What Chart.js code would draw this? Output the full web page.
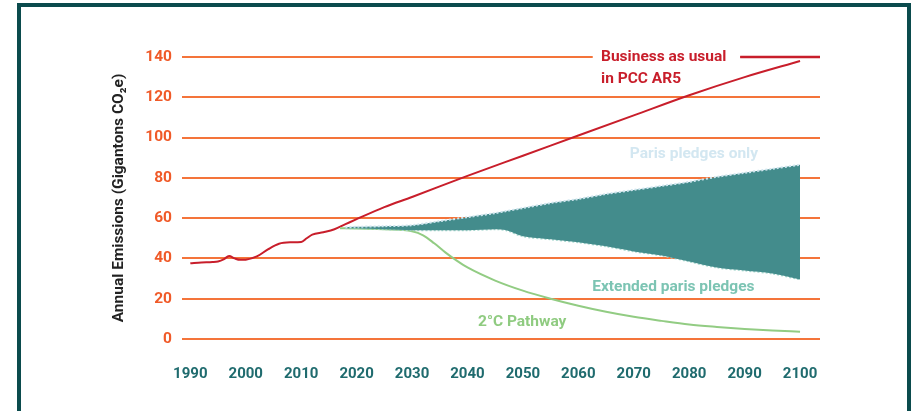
<!DOCTYPE html>
<html>
<head>
<meta charset="utf-8">
<script src="https://cdn.jsdelivr.net/npm/chart.js@4"></script>
<style>
  html, body { margin: 0; padding: 0; background: #fff; }
  #wrap { position: relative; width: 920px; height: 411px; overflow: hidden; }
  #frame { position: absolute; left: 17px; top: 3px; width: 886px; height: 420px;
           border: 4px solid #0b4b4d; border-bottom: none; }
  #chart { position: absolute; left: 0; top: 0; }
</style>
</head>
<body>
<div id="wrap">
  <div id="frame"></div>
  <canvas id="chart" width="920" height="411"></canvas>
</div>
<script>
// =======================
// Data
// =======================
const xTicks = [1990, 2000, 2010, 2020, 2030, 2040, 2050, 2060, 2070, 2080, 2090, 2100];

const bauYears  = [1990, 1992, 1994, 1995, 1996, 1997, 1998, 1999, 2000, 2002, 2004, 2006, 2008, 2010, 2011, 2012, 2014, 2016, 2018, 2020, 2025, 2030, 2040, 2050, 2060, 2070, 2080, 2090, 2100];
const bauValues = [37.6, 38, 38.2, 38.5, 39.5, 41.2, 40, 39.3, 39.4, 41, 44.5, 47.3, 48, 48.2, 50, 51.8, 53, 54.5, 57, 59.5, 65.5, 70.5, 81, 91, 101, 111, 121, 130, 138];

const bandYears   = [2018, 2020, 2025, 2030, 2035, 2040, 2045, 2047, 2050, 2055, 2060, 2065, 2070, 2075, 2080, 2085, 2090, 2095, 2100];
const parisOnly   = [55.5, 55.7, 56, 56.5, 58.5, 60.5, 62.5, 63.5, 65, 67.5, 69.5, 72, 74, 76, 78, 80.5, 82.5, 84.5, 86.5];
const parisExtend = [55, 55, 54.5, 54, 54, 54, 54.5, 54, 51, 49.5, 48, 46, 43.5, 41.5, 38.5, 35.5, 34, 32.5, 29.6];

const twoDegYears  = [2017, 2020, 2025, 2030, 2032, 2034, 2036, 2038, 2040, 2045, 2050, 2055, 2060, 2065, 2070, 2075, 2080, 2085, 2090, 2095, 2100];
const twoDegValues = [55, 54.8, 54.5, 53.5, 51.5, 47.5, 43, 39, 35.5, 29, 24, 20, 16.5, 13.5, 11, 9, 7.2, 6, 5, 4.2, 3.6];

function toPoints(xs, ys) {
  return xs.map((x, i) => ({ x: x, y: ys[i] }));
}

// =======================
// Labels plugin
// =======================
const labelsPlugin = {
  id: 'labels',
  afterDatasetsDraw(chart) {
    const ctx = chart.ctx;
    const xs = chart.scales.x, ys = chart.scales.y;
    const px = v => xs.getPixelForValue(v);
    const py = v => ys.getPixelForValue(v);

    ctx.save();
    // gap in the top grid line behind the label, then the red key line
    ctx.fillStyle = '#fff';
    ctx.fillRect(px(2062.6), py(140) - 3, px(2089.2) - px(2062.6), 6);
    ctx.strokeStyle = '#c81e2b';
    ctx.lineWidth = 2.5;
    ctx.beginPath();
    ctx.moveTo(px(2089.2), py(140));
    ctx.lineTo(px(2103.6), py(140));
    ctx.stroke();

    ctx.font = 'bold 15.5px Roboto';
    ctx.textAlign = 'left';
    ctx.textBaseline = 'middle';
    ctx.fillStyle = '#c81e2b';
    ctx.fillText('Business as usual', px(2064.1), py(140));
    ctx.fillText('in PCC AR5', px(2064.1), py(129.1));

    ctx.fillStyle = '#d3e7f1';
    ctx.fillText('Paris pledges only', px(2069.3), py(91.9));

    ctx.fillStyle = '#7cc4b3';
    ctx.fillText('Extended paris pledges', px(2062.5), py(25.8));

    ctx.fillStyle = '#8fcb80';
    ctx.fillText('2°C Pathway', px(2041.9), py(8.4));
    ctx.restore();
  }
};

// =======================
// Chart
// =======================
const ctx = document.getElementById('chart').getContext('2d');
new Chart(ctx, {
  type: 'line',
  data: {
    datasets: [
      { label: 'Paris pledges only', data: toPoints(bandYears, parisOnly), borderColor: '#cfe5ef', borderWidth: 2, borderDash: [2, 2],
        backgroundColor: '#438c8c', fill: '+1', pointRadius: 0, tension: 0.3 },
      { label: 'Extended paris pledges', data: toPoints(bandYears, parisExtend), borderColor: '#a8d8cf', borderWidth: 2, borderDash: [2, 2],
        fill: false, pointRadius: 0, tension: 0.3 },
      { label: '2°C Pathway', data: toPoints(twoDegYears, twoDegValues), borderColor: '#92cc83', borderWidth: 2,
        fill: false, pointRadius: 0, cubicInterpolationMode: 'monotone' },
      { label: 'Business as usual', data: toPoints(bauYears, bauValues), borderColor: '#c81e2b', borderWidth: 2,
        fill: false, pointRadius: 0, cubicInterpolationMode: 'monotone' }
    ]
  },
  options: {
    responsive: false,
    animation: false,
    layout: { padding: { left: 110, top: 57, right: 100, bottom: 0 } },
    plugins: { legend: { display: false }, tooltip: { enabled: false } },
    scales: {
      x: {
        type: 'linear',
        min: 1988.5,
        max: 2103.6,
        afterBuildTicks: scale => { scale.ticks = xTicks.map(v => ({ value: v })); },
        afterFit: scale => { scale.height = 72; },
        grid: { display: false },
        border: { display: false },
        ticks: { color: '#1f6b6e', font: { family: 'Roboto', weight: 'bold', size: 15 }, padding: 18,
                 callback: v => String(v), maxRotation: 0 }
      },
      y: {
        min: 0,
        max: 140,
        afterFit: scale => { scale.width = 72; },
        grid: { color: '#f4743a', lineWidth: 2, drawTicks: false },
        border: { display: false },
        ticks: { stepSize: 20, color: '#f05a28', font: { family: 'Roboto', weight: 'bold', size: 15.5 }, padding: 10 },
        title: { display: true, text: 'Annual Emissions (Gigantons CO₂e)', color: '#222',
                 font: { family: 'Roboto', weight: 'bold', size: 15.5 }, padding: { top: 0, bottom: 0 } }
      }
    }
  },
  plugins: [labelsPlugin]
});
</script>
</body>
</html>
